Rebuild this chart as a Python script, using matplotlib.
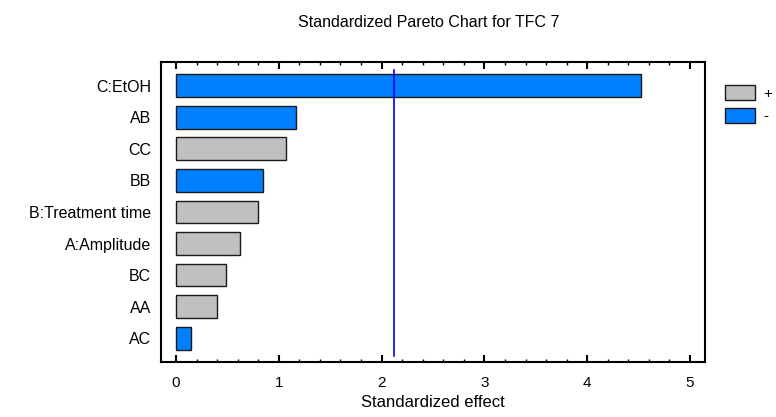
import numpy as np
import matplotlib.pyplot as plt
from matplotlib.patches import Patch
from matplotlib.ticker import MultipleLocator

plt.rcParams['font.family'] = ['Liberation Sans', 'DejaVu Sans']

# Effects, top to bottom
terms = ['C:EtOH', 'AB', 'CC', 'BB', 'B:Treatment time', 'A:Amplitude', 'BC', 'AA', 'AC']
effects = [4.52, 1.17, 1.07, 0.85, 0.80, 0.62, 0.49, 0.40, 0.15]
signs = ['-', '-', '+', '-', '+', '+', '+', '+', '-']
critical = 2.12

blue = '#0080FF'
gray = '#C0C0C0'
colors = [gray if s == '+' else blue for s in signs]

fig = plt.figure(figsize=(7.76, 4.17), dpi=100)
ax = fig.add_axes([0.2075, 0.132, 0.701, 0.7193])

y = np.arange(len(terms))
ax.barh(y, effects, height=0.72, color=colors, edgecolor='#1a1a1a', linewidth=1.0)
ax.axvline(critical, ymin=0.02, ymax=0.975, color='#0000FF', linewidth=1.2)

ax.set_ylim(len(terms) - 0.25, -0.75)
ax.set_xlim(-0.146, 5.146)
ax.set_yticks(y)
ax.set_yticklabels(terms, fontsize=11.5)
ax.tick_params(axis='y', length=0, pad=7)

ax.xaxis.set_major_locator(MultipleLocator(1))
ax.xaxis.set_minor_locator(MultipleLocator(0.2))
ax.tick_params(axis='x', which='major', direction='in', length=5, width=1.5,
               top=True, labelsize=11, pad=10)
ax.tick_params(axis='x', which='minor', direction='in', length=2.5, width=1,
               top=True)
for sp in ax.spines.values():
    sp.set_linewidth(1.5)

fig.text(0.553, 0.947, 'Standardized Pareto Chart for TFC 7', ha='center',
         va='center', fontsize=11.5)
fig.text(0.558, 0.034, 'Standardized effect', ha='center', va='center', fontsize=12)

handles = [Patch(facecolor=gray, edgecolor='#1a1a1a', label='+'),
           Patch(facecolor=blue, edgecolor='#1a1a1a', label='-')]
fig.legend(handles=handles, loc='upper left', bbox_to_anchor=(0.934, 0.795),
           frameon=False, fontsize=11, handlelength=2.0, handleheight=1.1,
           handletextpad=0.5, labelspacing=0.45, borderpad=0, borderaxespad=0)

fig.savefig('out.png', dpi=100)
